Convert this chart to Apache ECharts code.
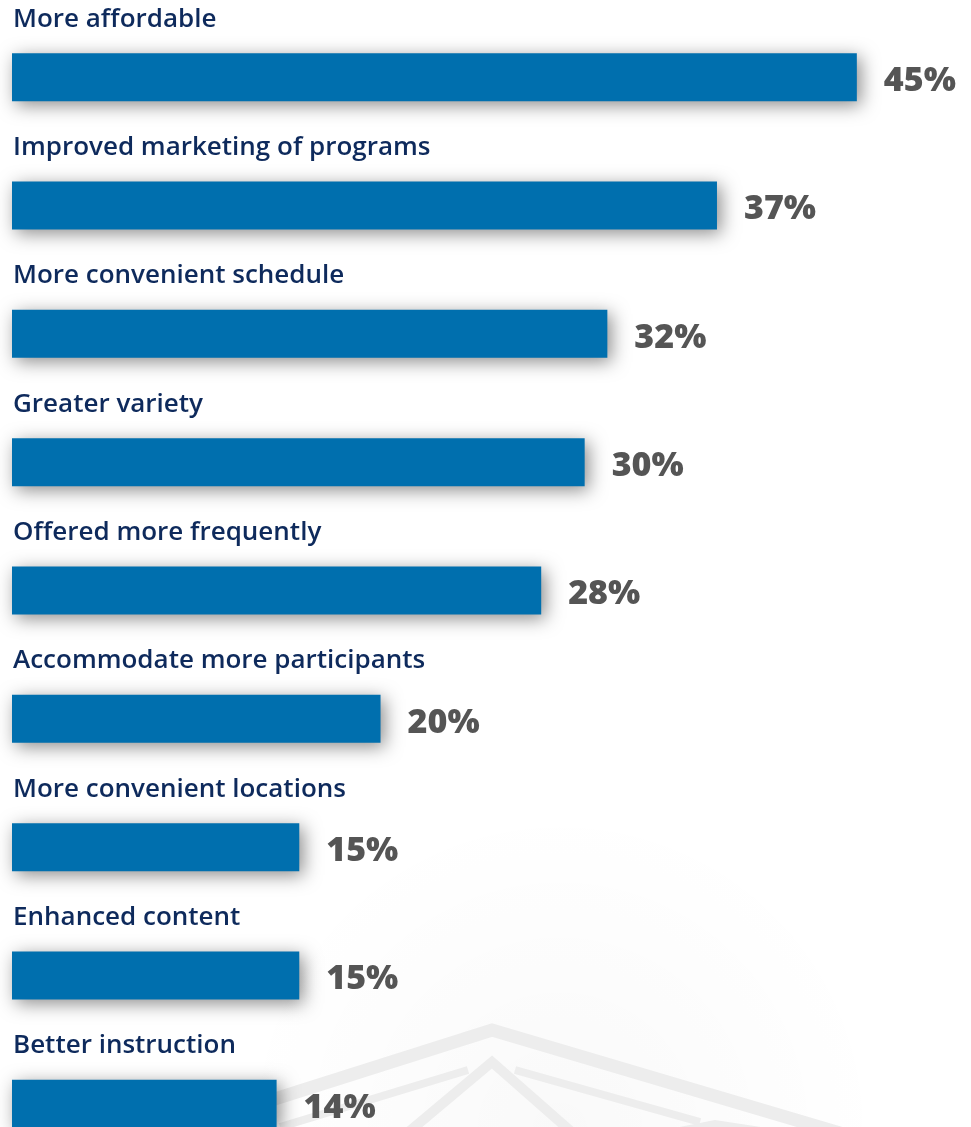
<!DOCTYPE html>
<html>
<head>
<meta charset="utf-8">
<script src="https://cdn.jsdelivr.net/npm/echarts@6/dist/echarts.min.js"></script>
<style>html,body{margin:0;padding:0;background:#fff;}#c{width:971px;height:1127px;}</style>
</head>
<body>
<div id="c"></div>
<script>
const categories = ["More affordable","Improved marketing of programs","More convenient schedule","Greater variety","Offered more frequently","Accommodate more participants","More convenient locations","Enhanced content","Better instruction"];
const barValues = [44.7, 37.3, 31.5, 30.3, 28.0, 19.5, 15.2, 15.2, 14.0];
const valueLabels = ["45%","37%","32%","30%","28%","20%","15%","15%","14%"];

const chart = echarts.init(document.getElementById('c'));
const wm = '#ededed';
chart.setOption({
  backgroundColor: '#ffffff',
  animation: false,
  graphic: [
    {type:'circle', z:0, shape:{cx:560, cy:1130, r:330}, style:{fill:{type:'radial',x:0.5,y:0.5,r:0.5,colorStops:[{offset:0,color:'rgba(0,0,0,0.025)'},{offset:1,color:'rgba(0,0,0,0)'}]}}},
    {type:'polyline', z:0, shape:{points:[[240,1110],[492,1030],[948,1165]]}, style:{stroke:wm, lineWidth:13, fill:null}},
    {type:'polyline', z:0, shape:{points:[[280,1127],[468,1070]]}, style:{stroke:wm, lineWidth:8, fill:null}},
    {type:'polyline', z:0, shape:{points:[[515,1070],[700,1122]]}, style:{stroke:wm, lineWidth:8, fill:null}},
    {type:'polyline', z:0, shape:{points:[[405,1135],[492,1062],[575,1135]]}, style:{stroke:wm, lineWidth:10, fill:null}},
    {type:'polyline', z:0, shape:{points:[[665,1135],[715,1125],[780,1135]]}, style:{stroke:wm, lineWidth:10, fill:null}},
    {type:'polyline', z:0, shape:{points:[[748,1137],[945,1165]]}, style:{stroke:wm, lineWidth:8, fill:null}}
  ],
  grid: {left: 12, right: 14, top: 13, height: 1155, containLabel: false, outerBoundsMode: 'none'},
  xAxis: {type:'value', min:0, max:50, show:false},
  yAxis: {type:'category', data: categories, inverse:true, show:false},
  series: [
    {
      type:'bar', data: barValues, barWidth: 48, z: 3,
      itemStyle: {color:'#006fae', shadowBlur: 18, shadowColor:'rgba(0,0,0,0.45)', shadowOffsetX: 4, shadowOffsetY: 4},
      label: {show:true, position:'right', distance: 27, offset:[0, 4],
        formatter: p => valueLabels[p.dataIndex],
        fontFamily:'Open Sans', fontWeight: 800, fontSize: 34, color:'#555555'}
    },
    {
      type:'bar', data: barValues, barWidth: 48, barGap:'-100%', z: 4,
      itemStyle: {color:'rgba(0,0,0,0)'},
      label: {show:true, position:[1, -34], align:'left', verticalAlign:'middle',
        formatter: p => categories[p.dataIndex],
        fontFamily:'Open Sans', fontWeight: 600, fontSize: 26, color:'#0e2a5c'}
    }
  ]
});
</script>
</body>
</html>
